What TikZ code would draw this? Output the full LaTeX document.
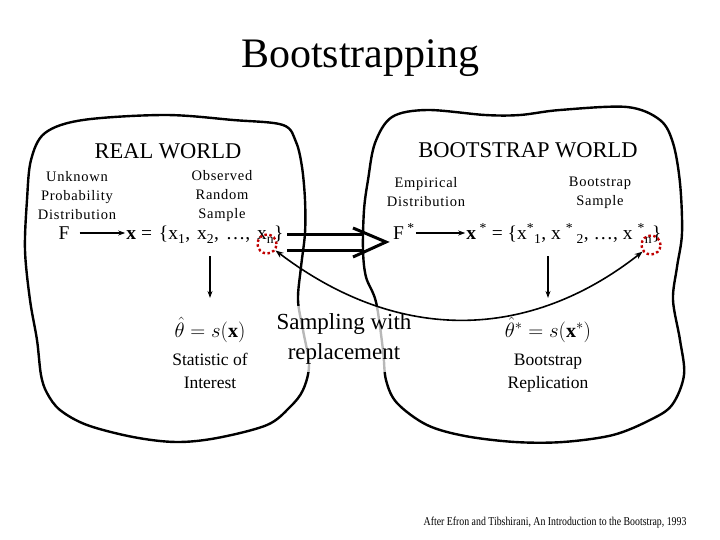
\documentclass[tikz,border=0pt]{standalone}
\usepackage{fontspec}
\setmainfont{Liberation Serif}
\newfontfamily\spacedfont[LetterSpace=5]{Liberation Serif}
\newfontfamily\narrowfont[FakeStretch=0.82]{Liberation Serif}
\usetikzlibrary{arrows.meta,positioning,calc}

\definecolor{ringred}{RGB}{192,0,0}

\begin{document}
\begin{tikzpicture}[
    x=1pt, y=-1pt,
    blob/.style={line width=2.4pt, line join=round},
    arrow/.style={-{Stealth[length=7pt,width=5pt]}, line width=1.5pt},
    label/.style={font=\spacedfont\fontsize{14.5}{19}\selectfont, align=center},
    world/.style={font=\fontsize{22.5}{27}\selectfont},
    sample/.style={font=\fontsize{19.5}{23}\selectfont, inner sep=1pt},
    ring/.style={circle, draw=ringred, dash pattern=on 2.5pt off 2.5pt, line width=2.4pt, minimum size=19pt, inner sep=0pt},
    caption/.style={font=\fontsize{17.5}{23}\selectfont, align=center},
    thick arrow/.style={line width=3pt}
]
\useasboundingbox (0,0) rectangle (720,540);

% the two worlds
\draw[blob] plot[smooth cycle, tension=0.55] coordinates {
    (83,120) (165,115) (233,120) (283,125) (296,142) (302,167) (305,200)
    (305,233) (301,267) (298,300) (303,330) (309,365) (303,390) (290,407)
    (267,425) (217,438) (176,442) (133,437) (87,425) (60,410) (47,393)
    (41,375) (37,340) (30,300) (25,250) (27,200) (31,160) (45,133)};
\draw[blob] plot[smooth cycle, tension=0.55] coordinates {
    (427,110) (485,115) (520,115) (560,110) (627,107) (660,120) (673,143)
    (680,183) (682,233) (677,267) (673,300) (680,340) (684,375) (672,405)
    (650,420) (613,435) (563,442) (515,442) (465,436) (427,425) (397,403)
    (386,380) (383,350) (376,302) (366,277) (363,250) (364,210) (368,180)
    (375,143) (392,117)};

\node[font=\fontsize{42}{50}\selectfont, anchor=base] (title) at (360,68) {Bootstrapping};

% real world
\node[world, anchor=base] (realw) at (168,159) {REAL WORLD};
\node[label] (unknown) at (77,196) {Unknown\\Probability\\Distribution};
\node[label] (observed) at (222,196) {Observed\\Random\\Sample};
\node[sample, anchor=base] (F) at (64,240) {F};
\node[sample, anchor=base] (xs) at (205,240) {\textbf{x} =\hspace{2pt} \{x\textsubscript{1},\hspace{2pt} x\textsubscript{2},\hspace{2pt} \dots,\hspace{2pt} x\textsubscript{n}\}};
\node[font=\fontsize{20}{24}\selectfont] (theta) at (210,330) {$\hat{\theta} = s(\mathbf{x})$};
\node[caption, below=4pt of theta] (stat) {Statistic of\\Interest};

% bootstrap world
\node[world, anchor=base] (bootw) at (528,158) {BOOTSTRAP WORLD};
\node[label] (empirical) at (426,192) {Empirical\\Distribution};
\node[label] (bsample) at (600,193) {Bootstrap\\Sample};
\node[sample, anchor=base] (Fstar) at (404,240) {F\textsuperscript{ *}};
\node[sample, anchor=base] (xstar) at (564,240) {\textbf{x}\textsuperscript{ *} = \{x\textsuperscript{*}\textsubscript{1}, x \textsuperscript{*}\textsubscript{ 2}, \dots, x \textsuperscript{*}\textsubscript{n}\}};
\node[font=\fontsize{20}{24}\selectfont] (thetastar) at (548,330) {$\hat{\theta}^{*} = s(\mathbf{x}^{*})$};
\node[caption, below=4pt of thetastar] (repl) {Bootstrap\\Replication};

\node[font=\fontsize{23}{30}\selectfont, align=center, fill=white, fill opacity=0.72, text opacity=1,
      inner xsep=2pt, inner ysep=8pt] (sampling) at (344,339) {Sampling with\\replacement};

\node[font=\narrowfont\fontsize{12}{14}\selectfont, anchor=base east] (credit) at (690,525)
    {After Efron and Tibshirani, An Introduction to the Bootstrap, 1993};

\node[ring] (ringn) at (267,244) {};
\node[ring] (ringnstar) at (651,245) {};

\draw[arrow] ([xshift=9pt,yshift=7pt]F.base east) -- ([yshift=7pt]F.base east -| xs.west);
\draw[arrow] ([yshift=7pt]Fstar.base east) -- ([yshift=7pt]Fstar.base east -| xstar.west);
\draw[arrow] ([yshift=-12pt]xs.south -| theta.north) -- ([yshift=16pt]theta.north);
\draw[arrow] ([yshift=-12pt]xstar.south -| thetastar.north) -- ([yshift=16pt]thetastar.north);

% plug-in step
\coordinate (dblstart) at (287,242);
\coordinate (dbltip) at (386,242);
\draw[thick arrow] ([yshift=8pt]dblstart) -- ([yshift=8pt,xshift=-23pt]dbltip);
\draw[thick arrow] ([yshift=-8pt]dblstart) -- ([yshift=-8pt,xshift=-23pt]dbltip);
\draw[thick arrow, line join=miter] ($(dbltip)+(-33,-14)$) -- (dbltip) -- ($(dbltip)+(-33,15)$);

\draw[{Stealth[length=8pt,width=6pt]}-{Stealth[length=8pt,width=6pt]}, line width=1.6pt]
    (ringn) .. controls (400,345) and (530,340) .. (ringnstar);

\end{tikzpicture}
\end{document}
